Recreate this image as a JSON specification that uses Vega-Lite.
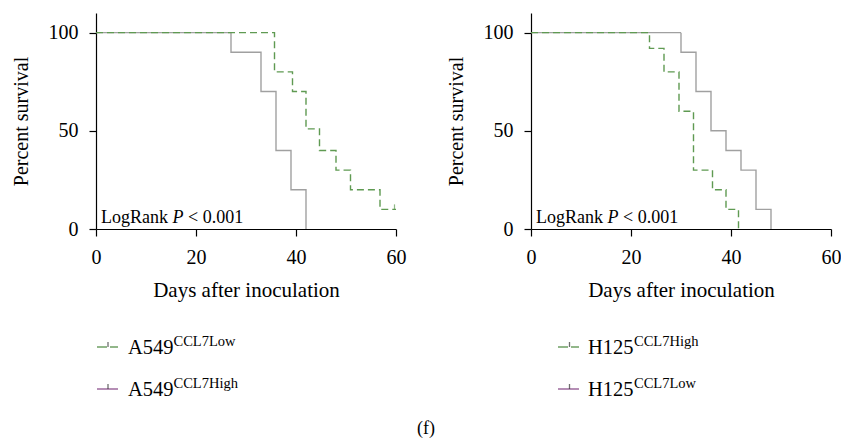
{
  "$schema": "https://vega.github.io/schema/vega-lite/v6.json",
  "padding": {"left": 11, "top": 13, "right": 0, "bottom": 0},
  "background": "white",
  "config": {
    "view": {"stroke": null},
    "font": "Liberation Serif",
    "axis": {
      "domainColor": "#000", "tickColor": "#000", "labelColor": "#000", "titleColor": "#000",
      "labelFont": "Liberation Serif", "titleFont": "Liberation Serif",
      "labelFontSize": 20, "titleFontSize": 20, "titleFontWeight": "normal",
      "tickSize": 7, "labelPadding": 11, "grid": false, "labelFlush": false,
      "domainWidth": 1.2, "tickWidth": 1.2
    }
  },
  "datasets": {
    "surv": [
      {"panel": "A549", "group": "A549 CCL7High", "day": 0, "pct": 100},
      {"panel": "A549", "group": "A549 CCL7High", "day": 27, "pct": 90},
      {"panel": "A549", "group": "A549 CCL7High", "day": 33, "pct": 70},
      {"panel": "A549", "group": "A549 CCL7High", "day": 36, "pct": 40},
      {"panel": "A549", "group": "A549 CCL7High", "day": 39, "pct": 20},
      {"panel": "A549", "group": "A549 CCL7High", "day": 42, "pct": 0},
      {"panel": "A549", "group": "A549 CCL7Low", "day": 0, "pct": 100},
      {"panel": "A549", "group": "A549 CCL7Low", "day": 35.7, "pct": 80},
      {"panel": "A549", "group": "A549 CCL7Low", "day": 39.3, "pct": 70},
      {"panel": "A549", "group": "A549 CCL7Low", "day": 42, "pct": 51},
      {"panel": "A549", "group": "A549 CCL7Low", "day": 44.7, "pct": 40},
      {"panel": "A549", "group": "A549 CCL7Low", "day": 48, "pct": 30},
      {"panel": "A549", "group": "A549 CCL7Low", "day": 50.9, "pct": 20},
      {"panel": "A549", "group": "A549 CCL7Low", "day": 56.8, "pct": 10},
      {"panel": "A549", "group": "A549 CCL7Low", "day": 60, "pct": 10},
      {"panel": "H125", "group": "H125 CCL7Low", "day": 0, "pct": 100},
      {"panel": "H125", "group": "H125 CCL7Low", "day": 30, "pct": 90},
      {"panel": "H125", "group": "H125 CCL7Low", "day": 33, "pct": 70},
      {"panel": "H125", "group": "H125 CCL7Low", "day": 36, "pct": 50},
      {"panel": "H125", "group": "H125 CCL7Low", "day": 39, "pct": 40},
      {"panel": "H125", "group": "H125 CCL7Low", "day": 42, "pct": 30},
      {"panel": "H125", "group": "H125 CCL7Low", "day": 45, "pct": 10},
      {"panel": "H125", "group": "H125 CCL7Low", "day": 48, "pct": 0},
      {"panel": "H125", "group": "H125 CCL7High", "day": 0, "pct": 100},
      {"panel": "H125", "group": "H125 CCL7High", "day": 23.7, "pct": 92},
      {"panel": "H125", "group": "H125 CCL7High", "day": 26.6, "pct": 80},
      {"panel": "H125", "group": "H125 CCL7High", "day": 29.6, "pct": 60},
      {"panel": "H125", "group": "H125 CCL7High", "day": 32.5, "pct": 30},
      {"panel": "H125", "group": "H125 CCL7High", "day": 36.3, "pct": 20},
      {"panel": "H125", "group": "H125 CCL7High", "day": 39, "pct": 10},
      {"panel": "H125", "group": "H125 CCL7High", "day": 41.5, "pct": 0}
    ],
    "censor": [
      {"panel": "A549", "group": "A549 CCL7Low", "day": 59.7, "pct": 10}
    ],
    "notes": [
      {"panel": "A549", "word": "LogRank", "p": "P", "rest": "< 0.001"},
      {"panel": "H125", "word": "LogRank", "p": "P", "rest": "< 0.001"}
    ],
    "legend": [
      {"panel": "A549", "order": 1, "kind": "dashed", "base": "A549", "sup": "CCL7Low"},
      {"panel": "A549", "order": 2, "kind": "solid", "base": "A549", "sup": "CCL7High"},
      {"panel": "H125", "order": 1, "kind": "dashed", "base": "H125", "sup": "CCL7High"},
      {"panel": "H125", "order": 2, "kind": "solid", "base": "H125", "sup": "CCL7Low"}
    ]
  },
  "title": {"text": "(f)", "orient": "bottom", "anchor": "middle", "fontSize": 18, "fontWeight": "normal", "font": "Liberation Serif", "color": "#000", "offset": 10},
  "spacing": 40,
  "resolve": {"scale": {"color": "independent", "strokeDash": "independent"}},
  "hconcat": [
    {
      "spacing": 26,
      "resolve": {"scale": {"color": "independent", "strokeDash": "independent"}},
      "vconcat": [
        {
          "width": 300, "height": 216,
          "layer": [
            {
              "data": {"name": "surv"},
              "transform": [{"filter": "datum.panel === 'A549'"}],
              "mark": {"type": "line", "interpolate": "step-after", "strokeWidth": 1.4},
              "encoding": {
                "x": {"field": "day", "type": "quantitative", "scale": {"domain": [0, 60]}, "axis": {"values": [0, 20, 40, 60], "title": "Days after inoculation", "titleFontSize": 21, "titlePadding": 12}},
                "y": {"field": "pct", "type": "quantitative", "scale": {"domain": [0, 110]}, "axis": {"values": [0, 50, 100], "title": "Percent survival", "titlePadding": 17}},
                "color": {"field": "group", "type": "nominal", "scale": {"domain": ["A549 CCL7High", "A549 CCL7Low"], "range": ["#a0a0a0", "#5f9a52"]}, "legend": null},
                "strokeDash": {"field": "group", "type": "nominal", "scale": {"domain": ["A549 CCL7High", "A549 CCL7Low"], "range": [[1, 0], [7, 4]]}, "legend": null}
              }
            },
            {
              "data": {"name": "censor"},
              "transform": [{"filter": "datum.panel === 'A549'"}],
              "mark": {"type": "tick", "orient": "vertical", "size": 5, "thickness": 1.2, "color": "#5f9a52", "yOffset": -2.5},
              "encoding": {
                "x": {"field": "day", "type": "quantitative"},
                "y": {"field": "pct", "type": "quantitative"}
              }
            },
            {
              "data": {"name": "notes"},
              "transform": [{"filter": "datum.panel === 'A549'"}],
              "layer": [
                {"mark": {"type": "text", "align": "left", "baseline": "alphabetic", "fontSize": 18, "color": "#000"}, "encoding": {"x": {"datum": 1, "type": "quantitative"}, "y": {"datum": 3, "type": "quantitative"}, "text": {"field": "word"}}},
                {"mark": {"type": "text", "align": "left", "baseline": "alphabetic", "fontSize": 18, "fontStyle": "italic", "color": "#000", "dx": 71.5}, "encoding": {"x": {"datum": 1, "type": "quantitative"}, "y": {"datum": 3, "type": "quantitative"}, "text": {"field": "p"}}},
                {"mark": {"type": "text", "align": "left", "baseline": "alphabetic", "fontSize": 18, "color": "#000", "dx": 87}, "encoding": {"x": {"datum": 1, "type": "quantitative"}, "y": {"datum": 3, "type": "quantitative"}, "text": {"field": "rest"}}}
              ]
            }
          ]
        },
        {
          "width": 300, "height": 84,
          "data": {"name": "legend"},
          "transform": [{"filter": "datum.panel === 'A549'"}],
          "encoding": {"y": {"field": "order", "type": "ordinal", "scale": {"type": "point", "padding": 0.5}, "axis": null}},
          "layer": [
            {"mark": {"type": "rule", "strokeWidth": 1.5}, "encoding": {"x": {"value": 1}, "x2": {"value": 22},
              "color": {"field": "kind", "type": "nominal", "scale": {"domain": ["dashed", "solid"], "range": ["#6fa064", "#9d6a9d"]}, "legend": null},
              "strokeDash": {"field": "kind", "type": "nominal", "scale": {"domain": ["dashed", "solid"], "range": [[10, 3], [1, 0]]}, "legend": null}}},
            {"mark": {"type": "tick", "orient": "vertical", "size": 5, "thickness": 1.3, "color": "#333", "yOffset": -2.5}, "encoding": {"x": {"value": 12}}},
            {"mark": {"type": "text", "align": "left", "baseline": "alphabetic", "fontSize": 20.5, "color": "#000", "dy": 7}, "encoding": {"x": {"value": 32}, "text": {"field": "base"}}},
            {"mark": {"type": "text", "align": "left", "baseline": "alphabetic", "fontSize": 14.5, "color": "#000", "dy": -1.5}, "encoding": {"x": {"value": 77.5}, "text": {"field": "sup"}}}
          ]
        }
      ]
    },
    {
      "spacing": 26,
      "resolve": {"scale": {"color": "independent", "strokeDash": "independent"}},
      "vconcat": [
        {
          "width": 300, "height": 216,
          "layer": [
            {
              "data": {"name": "surv"},
              "transform": [{"filter": "datum.panel === 'H125'"}],
              "mark": {"type": "line", "interpolate": "step-after", "strokeWidth": 1.4},
              "encoding": {
                "x": {"field": "day", "type": "quantitative", "scale": {"domain": [0, 60]}, "axis": {"values": [0, 20, 40, 60], "title": "Days after inoculation", "titleFontSize": 21, "titlePadding": 12}},
                "y": {"field": "pct", "type": "quantitative", "scale": {"domain": [0, 110]}, "axis": {"values": [0, 50, 100], "title": "Percent survival", "titlePadding": 17}},
                "color": {"field": "group", "type": "nominal", "scale": {"domain": ["H125 CCL7Low", "H125 CCL7High"], "range": ["#a0a0a0", "#5f9a52"]}, "legend": null},
                "strokeDash": {"field": "group", "type": "nominal", "scale": {"domain": ["H125 CCL7Low", "H125 CCL7High"], "range": [[1, 0], [7, 4]]}, "legend": null}
              }
            },
            {
              "data": {"name": "notes"},
              "transform": [{"filter": "datum.panel === 'H125'"}],
              "layer": [
                {"mark": {"type": "text", "align": "left", "baseline": "alphabetic", "fontSize": 18, "color": "#000"}, "encoding": {"x": {"datum": 1, "type": "quantitative"}, "y": {"datum": 3, "type": "quantitative"}, "text": {"field": "word"}}},
                {"mark": {"type": "text", "align": "left", "baseline": "alphabetic", "fontSize": 18, "fontStyle": "italic", "color": "#000", "dx": 71.5}, "encoding": {"x": {"datum": 1, "type": "quantitative"}, "y": {"datum": 3, "type": "quantitative"}, "text": {"field": "p"}}},
                {"mark": {"type": "text", "align": "left", "baseline": "alphabetic", "fontSize": 18, "color": "#000", "dx": 87}, "encoding": {"x": {"datum": 1, "type": "quantitative"}, "y": {"datum": 3, "type": "quantitative"}, "text": {"field": "rest"}}}
              ]
            }
          ]
        },
        {
          "width": 300, "height": 84,
          "data": {"name": "legend"},
          "transform": [{"filter": "datum.panel === 'H125'"}],
          "encoding": {"y": {"field": "order", "type": "ordinal", "scale": {"type": "point", "padding": 0.5}, "axis": null}},
          "layer": [
            {"mark": {"type": "rule", "strokeWidth": 1.5}, "encoding": {"x": {"value": 27}, "x2": {"value": 48},
              "color": {"field": "kind", "type": "nominal", "scale": {"domain": ["dashed", "solid"], "range": ["#6fa064", "#9d6a9d"]}, "legend": null},
              "strokeDash": {"field": "kind", "type": "nominal", "scale": {"domain": ["dashed", "solid"], "range": [[10, 3], [1, 0]]}, "legend": null}}},
            {"mark": {"type": "tick", "orient": "vertical", "size": 5, "thickness": 1.3, "color": "#333", "yOffset": -2.5}, "encoding": {"x": {"value": 38.5}}},
            {"mark": {"type": "text", "align": "left", "baseline": "alphabetic", "fontSize": 20.5, "color": "#000", "dy": 7}, "encoding": {"x": {"value": 57}, "text": {"field": "base"}}},
            {"mark": {"type": "text", "align": "left", "baseline": "alphabetic", "fontSize": 14.5, "color": "#000", "dy": -1.5}, "encoding": {"x": {"value": 103}, "text": {"field": "sup"}}}
          ]
        }
      ]
    }
  ]
}
